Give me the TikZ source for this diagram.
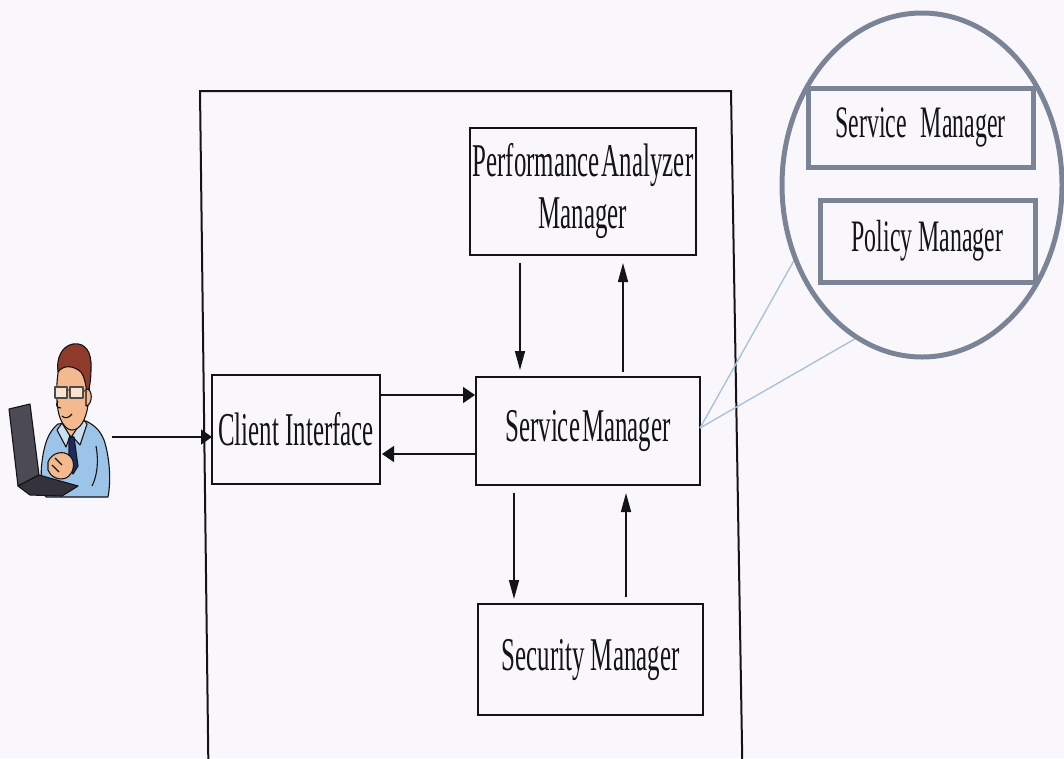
\documentclass[tikz,border=0pt]{standalone}
\usepackage{fontspec}
\usetikzlibrary{arrows.meta,calc,shapes.geometric}
\newfontfamily\narrowserif[FakeStretch=0.53]{Liberation Serif}

\definecolor{paper}{HTML}{FAF7FC}
\definecolor{ink}{HTML}{141418}
\definecolor{lensgray}{HTML}{7B8496}
\definecolor{leader}{HTML}{A9C3DB}
\definecolor{skin}{HTML}{F4B98F}
\definecolor{hair}{HTML}{8E3B2B}
\definecolor{shirt}{HTML}{9CC3E8}
\definecolor{shirtlight}{HTML}{C9DFF3}
\definecolor{tie}{HTML}{1E2B5C}
\definecolor{lid}{HTML}{4B4A55}
\definecolor{keys}{HTML}{34333B}

\tikzset{
  compbox/.style={draw=ink, line width=2.2pt, rectangle, inner sep=0pt, outer sep=0pt,
    font=\narrowserif\fontsize{47}{52}\selectfont, text=ink, align=center},
  lensbox/.style={draw=lensgray, line width=5pt, rectangle, inner sep=0pt, outer sep=0pt,
    font=\narrowserif\fontsize{45}{50}\selectfont, text=ink},
  varr/.style={draw=ink, line width=1.6pt, -{Triangle[length=19pt,width=10pt]}},
  harr/.style={draw=ink, line width=1.6pt, -{Triangle[length=12pt,width=16pt]}},
  leaderline/.style={draw=leader, line width=1.4pt},
  outline/.style={draw=ink, line width=1.1pt, line join=round},
}

\begin{document}
\begin{tikzpicture}[x=1pt, y=-1pt]
\useasboundingbox (0,0) rectangle (1064,758);
\fill[paper] (0,0) rectangle (1064,758);

% system boundary (runs off the bottom edge)
\begin{scope}
  \clip (0,0) rectangle (1064,758);
  \draw[ink, line width=2pt] (208.5,775) -- (200,91) -- (731,91) -- (742.5,775);
\end{scope}

% components
\node[compbox, minimum width=226pt, minimum height=127pt] (perf) at (583,191.5)
  {Performance\hspace{2pt}Analyzer\\Manager};
\node[compbox, minimum width=224pt, minimum height=108pt] (sm) at (588,431) {Service\hspace{2pt}Manager};
\node[compbox, minimum width=168pt, minimum height=109pt] (client) at (296,429.5) {Client Interface};
\node[compbox, minimum width=225pt, minimum height=111pt] (sec) at (590.5,659.5) {Security Manager};

% message flows
\draw[varr] ($(perf.south)+(-63,8)$) -- ($(sm.north)+(-68,-7)$);
\draw[varr] ($(sm.north)+(35,-5)$) -- ($(perf.south)+(40,8)$);
\draw[harr] ($(client.east)+(0,-34.5)$) -- ($(sm.west)+(-1,-36)$);
\draw[harr] ($(sm.west)+(0,23)$) -- ($(client.east)+(2,24.5)$);
\draw[varr] ($(sm.south)+(-74,8)$) -- ($(sec.north)+(-76.5,-5)$);
\draw[varr] ($(sec.north)+(35.5,-7)$) -- ($(sm.south)+(38,8)$);

% magnified view of the service manager
\node[ellipse, draw=none, minimum width=280pt, minimum height=344pt, inner sep=0pt, outer sep=0pt] (lens) at (922,185) {};
\draw[leaderline] ($(sm.east)+(0,-3)$) -- (lens.210);
\draw[leaderline] ($(sm.east)+(0,-3)$) -- (lens.247);
\node[ellipse, draw=lensgray, line width=5pt, fill=paper, minimum width=280pt, minimum height=344pt, inner sep=0pt] (lensring) at (922,185) {};
\node[lensbox, minimum width=225pt, minimum height=79pt] (lsm) at (920.5,127.5) {Service\hspace{8pt} Manager};
\node[lensbox, minimum width=215pt, minimum height=82pt] (lpm) at (927.5,241) {Policy Manager};

% user at a laptop
\begin{scope}[outline]
  % laptop lid
  \filldraw[fill=lid] (9,409) -- (30,404) -- (39,475) -- (18,486) -- cycle;
  % torso
  \filldraw[fill=shirt] (58,424) .. controls (48,432) and (44,445) .. (42,462)
    .. controls (40,475) and (42,490) .. (46,497) -- (108,497)
    .. controls (111,482) and (110,458) .. (104,440)
    .. controls (100,430) and (94,425) .. (86,421) -- cycle;
  \draw (96,446) .. controls (99,462) and (97,476) .. (92,486);
  % neck
  \filldraw[fill=skin] (64,416) -- (81,413) -- (81,428) -- (71,437) -- (64,428) -- cycle;
  % collar and tie
  \filldraw[fill=shirtlight] (62,423) -- (70,436) -- (66,447) -- (57,430) -- cycle;
  \filldraw[fill=shirtlight] (83,419) -- (72,436) -- (80,445) -- (87,424) -- cycle;
  \filldraw[fill=tie] (69,438) -- (74,437) -- (78,466) -- (73,474) -- (69,464) -- cycle;
  % face
  \filldraw[fill=skin] (60,362) .. controls (56,380) and (56,398) .. (58,410)
    .. controls (60,422) and (66,430) .. (72,430)
    .. controls (80,430) and (86,420) .. (88,405)
    .. controls (90,392) and (90,375) .. (86,365) -- cycle;
  % hair, swept back over the crown
  \filldraw[fill=hair] (58,372) .. controls (56,358) and (62,346) .. (73,344)
    .. controls (85,342) and (92,352) .. (91,368)
    .. controls (91,378) and (90,388) .. (87,394)
    .. controls (86,384) and (84,376) .. (81,372)
    .. controls (74,366) and (64,364) .. (58,372) -- cycle;
  % ear
  \filldraw[fill=skin] (86,389) .. controls (93,388) and (93,405) .. (86,406) -- cycle;
  % glasses
  \filldraw[fill=white!60!skin, line width=1.4pt, draw=black!70] (55,387) rectangle (67,398);
  \filldraw[fill=white!60!skin, line width=1.4pt, draw=black!70] (70,387) rectangle (83,398);
  \draw[line width=1.4pt, draw=black!70] (67,390) -- (70,390) (83,390) -- (87,392);
  % nose and mouth
  \draw (58,401) .. controls (55,405) and (57,408) .. (61,408);
  \draw (62,416) .. controls (65,419) and (69,418) .. (72,414);
  % keyboard
  \filldraw[fill=keys] (18,486) -- (39,475) -- (78,486) -- (62,496) -- (30,495) -- cycle;
  % hands
  \filldraw[fill=skin] (48,462) .. controls (52,452) and (64,450) .. (70,456)
    .. controls (76,462) and (74,474) .. (66,478)
    .. controls (58,481) and (50,476) .. (48,470) -- cycle;
  \draw (55,458) -- (62,465) (52,465) -- (59,472);
\end{scope}
\node[inner sep=0pt, minimum width=104pt, minimum height=160pt] (user) at (58,420) {};
\coordinate (userport) at (112,437);
\draw[draw=ink, line width=1.6pt, -{Triangle[length=11pt,width=15pt]}] (userport) -- (client.west |- userport);

\end{tikzpicture}
\end{document}
